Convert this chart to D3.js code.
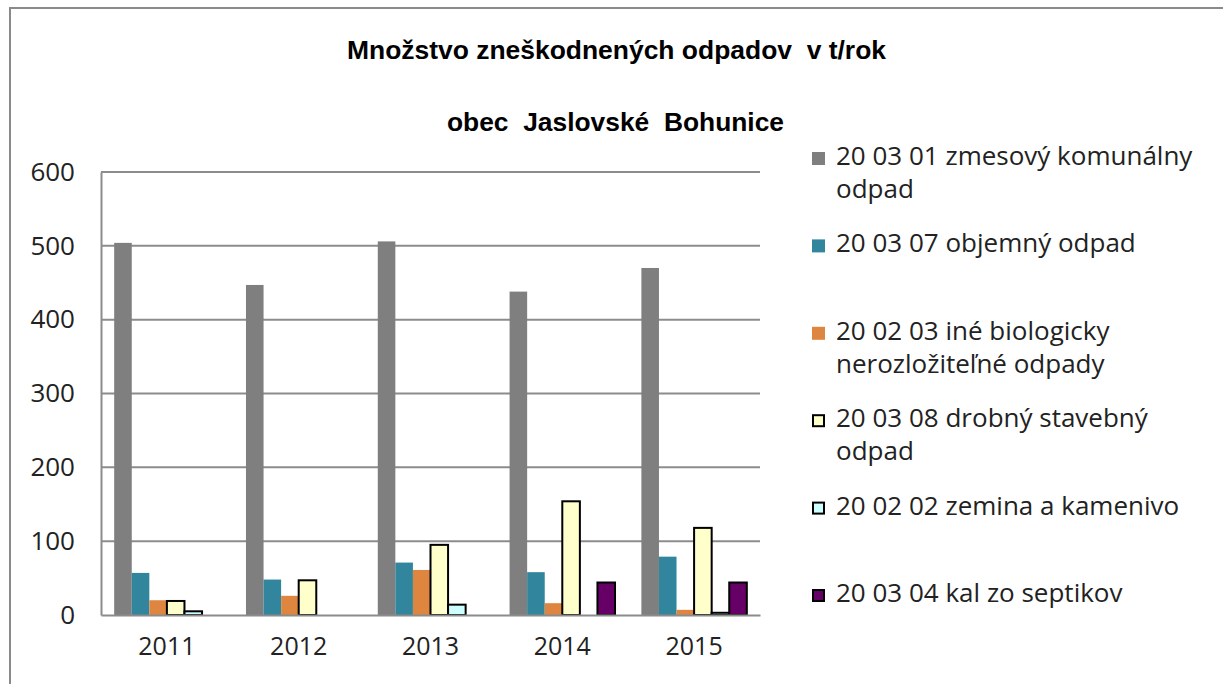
<!DOCTYPE html>
<html>
<head>
<meta charset="utf-8">
<script src="https://cdn.jsdelivr.net/npm/d3@7"></script>
<style>
  html, body { margin: 0; padding: 0; background: #fff; }
  svg { display: block; }
</style>
</head>
<body>
<div id="chart"></div>
<script>
// data
const years = ["2011", "2012", "2013", "2014", "2015"];
const seriesNames = [
    "20 03 01 zmesový komunálny odpad",
    "20 03 07 objemný odpad",
    "20 02 03 iné biologicky nerozložiteľné odpady",
    "20 03 08 drobný stavebný odpad",
    "20 02 02 zemina a kamenivo",
    "20 03 04 kal zo septikov"
];
const komunalny  = [504, 447, 506, 438, 470];
const objemny    = [57, 48, 71, 58, 79];
const biologicky = [20, 26, 61, 16, 7];
const stavebny   = [19, 47, 95, 154, 118];
const zemina     = [5, 0, 14, 0, 3];
const kal        = [0, 0, 0, 44, 44];
const yTicks = [0, 100, 200, 300, 400, 500, 600];

const seriesValues = [komunalny, objemny, biologicky, stavebny, zemina, kal];
const fills   = ["#7f7f7f", "#31859c", "#de8640", "#ffffcc", "#ccffff", "#660066"];
const strokes = [null, null, null, "#000", "#000", "#000"];

const W = 1223, H = 684;
const plot = { left: 101, right: 760, top: 172, bottom: 615 };
const textFont = "'Open Sans', sans-serif";
const titleFont = "'Liberation Sans', Arial, sans-serif";

const svg = d3.select("#chart").append("svg")
    .attr("width", W)
    .attr("height", H);

// Rahmen
svg.append("rect")
    .attr("x", 10).attr("y", 8)
    .attr("width", W + 20).attr("height", H + 20)
    .attr("fill", "none")
    .attr("stroke", "#8a8a8a")
    .attr("stroke-width", 2);

// Titel (leicht in die Breite gezogen wie im Original)
svg.append("text")
    .attr("x", 347).attr("y", 59)
    .attr("font-family", titleFont)
    .attr("font-weight", "bold")
    .attr("font-size", "26px")
    .attr("fill", "#000")
    .attr("xml:space", "preserve")
    .style("white-space", "pre")
    .attr("textLength", 539)
    .attr("lengthAdjust", "spacingAndGlyphs")
    .text("Množstvo zneškodnených odpadov  v t/rok");

svg.append("text")
    .attr("x", 447).attr("y", 131)
    .attr("font-family", titleFont)
    .attr("font-weight", "bold")
    .attr("font-size", "26px")
    .attr("fill", "#000")
    .attr("xml:space", "preserve")
    .style("white-space", "pre")
    .attr("textLength", 337)
    .attr("lengthAdjust", "spacingAndGlyphs")
    .text("obec  Jaslovské  Bohunice");

// Skalen
const x0 = d3.scaleBand()
    .domain(years)
    .range([plot.left, plot.right])
    .padding(0);

const unit = x0.bandwidth() / 7.5;   // 6 Balken + 150 % Abstand
const x1 = d3.scaleBand()
    .domain(d3.range(seriesNames.length))
    .range([unit * 0.75, x0.bandwidth() - unit * 0.75])
    .padding(0);

const y = d3.scaleLinear()
    .domain([0, 600])
    .range([plot.bottom, plot.top]);

// Gitterlinien
svg.append("g")
    .selectAll("line")
    .data(yTicks.filter(t => t > 0))
    .enter()
    .append("line")
    .attr("x1", plot.left).attr("x2", plot.right)
    .attr("y1", d => y(d)).attr("y2", d => y(d))
    .attr("stroke", "#8c8c8c")
    .attr("stroke-width", 2);

// Balken
const groups = svg.append("g")
    .selectAll("g")
    .data(years)
    .enter()
    .append("g")
    .attr("transform", d => `translate(${x0(d)},0)`);

groups.selectAll("rect")
    .data((yr, i) => seriesValues.map((vals, s) => ({ s, v: vals[i] })))
    .enter()
    .filter(d => d.v > 0)
    .append("rect")
    .attr("x", d => x1(d.s))
    .attr("y", d => y(d.v))
    .attr("width", x1.bandwidth())
    .attr("height", d => y(0) - y(d.v))
    .attr("fill", d => fills[d.s])
    .attr("stroke", d => strokes[d.s] || "none")
    .attr("stroke-width", 2);

// Achsen
const yAxis = d3.axisLeft(y).tickValues(yTicks).tickSize(0).tickPadding(26);
const yG = svg.append("g")
    .attr("transform", `translate(${plot.left},0)`)
    .call(yAxis);
yG.select(".domain").attr("stroke", "#8c8c8c").attr("stroke-width", 2);
yG.selectAll("text")
    .attr("font-family", textFont)
    .attr("font-size", "26px")
    .attr("fill", "#222");

const xAxis = d3.axisBottom(x0).tickSize(0).tickPadding(22);
const xG = svg.append("g")
    .attr("transform", `translate(0,${plot.bottom})`)
    .call(xAxis);
xG.select(".domain").attr("stroke", "#8c8c8c").attr("stroke-width", 2);
xG.selectAll("text")
    .attr("font-family", textFont)
    .attr("font-size", "25px")
    .attr("fill", "#222");

// Legende
const legend = svg.append("g");
const legendX = 812, legendTextX = 836, legendTop = 165, legendStep = 87.4, lineH = 33;
const wrapWidth = 370;

seriesNames.forEach((name, i) => {
    const by = legendTop + i * legendStep;
    legend.append("rect")
        .attr("x", legendX + (strokes[i] ? 1 : 0))
        .attr("y", by - 13 + (strokes[i] ? 1 : 0))
        .attr("width", strokes[i] ? 11 : 13)
        .attr("height", strokes[i] ? 11 : 13)
        .attr("fill", fills[i])
        .attr("stroke", strokes[i] || "none")
        .attr("stroke-width", 2);

    const t = legend.append("text")
        .attr("x", legendTextX).attr("y", by)
        .attr("font-family", textFont)
        .attr("font-size", "26px")
        .attr("fill", "#222");

    // einfacher Zeilenumbruch
    const words = name.split(" ");
    let line = [];
    let tspan = t.append("tspan").attr("x", legendTextX).attr("y", by);
    let lineNo = 0;
    words.forEach(w => {
        line.push(w);
        tspan.text(line.join(" "));
        if (tspan.node().getComputedTextLength() > wrapWidth && line.length > 1) {
            line.pop();
            tspan.text(line.join(" "));
            line = [w];
            lineNo++;
            tspan = t.append("tspan").attr("x", legendTextX).attr("y", by + lineNo * lineH).text(w);
        }
    });
});
</script>
</body>
</html>
